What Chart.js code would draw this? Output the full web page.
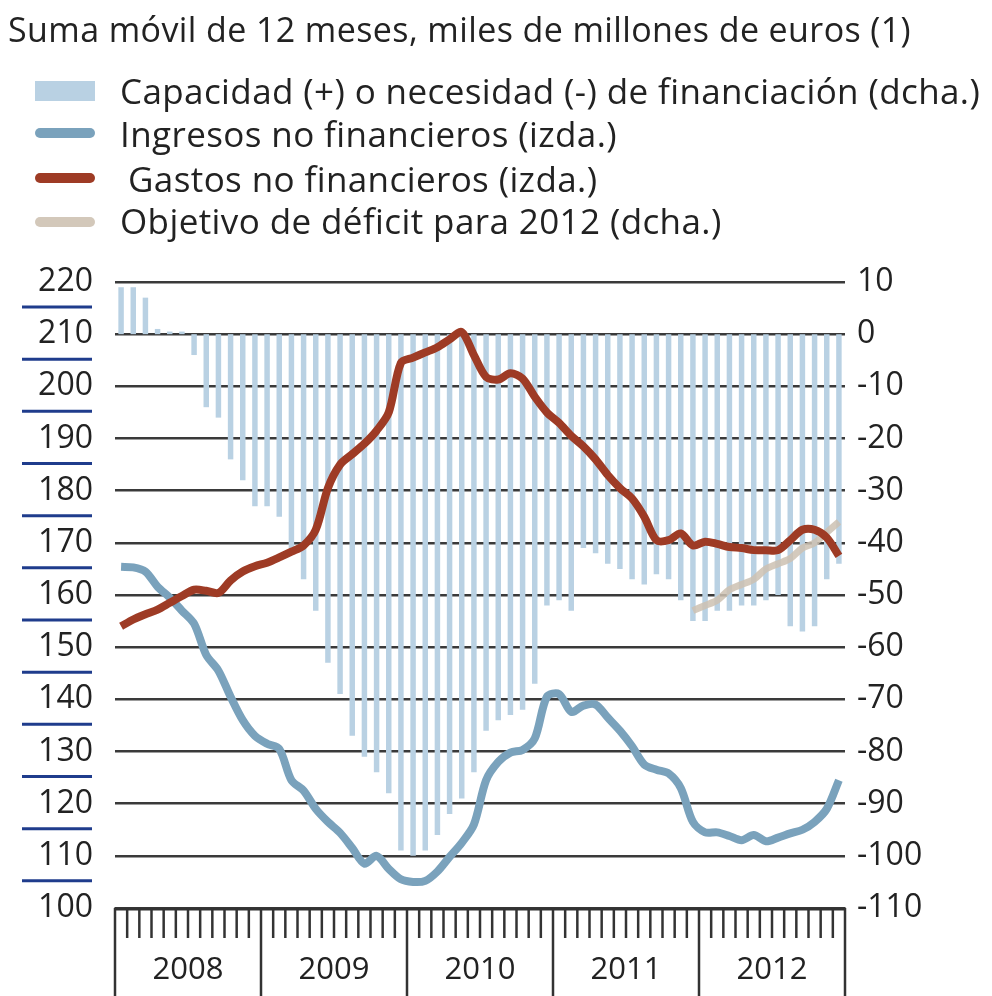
<!DOCTYPE html>
<html lang="es">
<head>
<meta charset="UTF-8">
<title>Capacidad o necesidad de financiación</title>
<style>
  body { margin: 0; background: #fff; font-family: "Open Sans", sans-serif; color: #222; }
  .wrap { position: relative; width: 992px; height: 996px; }
  #grafico { position: absolute; left: 0; top: 0; }
  .titulo { position: absolute; left: 8px; top: 6px; font-size: 34px; letter-spacing: 0.4px; white-space: nowrap; line-height: 46px; }
  .leyenda { position: absolute; left: 0; top: 0; }
  .item { position: absolute; left: 120px; font-size: 35px; letter-spacing: 0.4px; white-space: nowrap; line-height: 46px; }
  .simbolo { position: absolute; left: 35px; width: 60px; }
</style>
</head>
<body>
<div class="wrap">
  <canvas id="grafico" width="992" height="996"></canvas>
  <div class="titulo">Suma móvil de 12 meses, miles de millones de euros (1)</div>
  <div class="leyenda">
    <div class="simbolo" style="top:81px;height:20px;background:#b9d1e3"></div>
    <div class="item" style="top:68px">Capacidad (+) o necesidad (-) de financiación (dcha.)</div>
    <div class="simbolo" style="top:128px;height:10px;border-radius:5px;background:#7aa2bc"></div>
    <div class="item" style="top:111px">Ingresos no financieros (izda.)</div>
    <div class="simbolo" style="top:173px;height:10px;border-radius:5px;background:#9e3b25"></div>
    <div class="item" style="top:156px;left:128px">Gastos no financieros (izda.)</div>
    <div class="simbolo" style="top:217px;height:10px;border-radius:5px;background:#d3c8ba"></div>
    <div class="item" style="top:198px">Objetivo de déficit para 2012 (dcha.)</div>
  </div>
</div>

<script src="https://cdn.jsdelivr.net/npm/chart.js@4"></script>
<script>
// meses de ene-2008 a dic-2012
const anios = ['2008', '2009', '2010', '2011', '2012'];
const meses = [];
anios.forEach(a => { for (let m = 1; m <= 12; m++) meses.push(a + '-' + m); });

// ingresos no financieros (izda.)
const ingresos = [
  165.4, 165.3, 164.5, 161.6, 159.5, 157, 154.5, 148.5, 145.5, 140.5, 136, 133,
  131.5, 130.5, 124.5, 122.5, 119, 116.5, 114.4, 111.5, 108.5, 110, 107.5, 105.5,
  105, 105.2, 107, 109.8, 112.5, 116, 124.5, 128, 129.8, 130.3, 132.5, 140.5,
  141, 137.6, 138.8, 139, 136.5, 134, 131, 127.5, 126.5, 125.8, 123, 116.5,
  114.5, 114.5, 113.8, 113, 114, 112.8, 113.5, 114.3, 115, 116.5, 119, 124.5
];

// gastos no financieros (izda.)
const gastos = [
  154, 155.3, 156.3, 157.2, 158.5, 159.8, 161, 160.8, 160.4, 162.8, 164.5, 165.5,
  166.2, 167.2, 168.3, 169.5, 172.5, 180.5, 185, 187, 189, 191.5, 195, 204.5,
  205.5, 206.5, 207.5, 209, 210.4, 206, 201.8, 201.3, 202.5, 201.5, 198, 195,
  193, 190.5, 188.5, 186, 183, 180.5, 178.5, 175, 170.5, 170.5, 171.8, 169.5,
  170.2, 169.8, 169.2, 169, 168.6, 168.6, 168.6, 170.5, 172.5, 172.5, 171, 167.5
];

// capacidad (+) o necesidad (-) de financiación (dcha.)
const saldo = [
  9, 9, 7, 1, 0.5, 0.5, -4, -14, -16, -24, -28, -33,
  -33, -35, -41, -47, -53, -63, -69, -77, -81, -84, -88, -99,
  -100, -99, -96, -92, -89, -84, -76, -74, -73, -72, -67, -52,
  -51, -53, -41, -42, -44, -45, -47, -48, -46, -47, -51, -55,
  -55, -53, -53, -52, -52, -51, -50, -56, -57, -56, -47, -44
];

// objetivo de déficit para 2012 (dcha.), desde dic-2011
const objetivo = [
  null, null, null, null, null, null, null, null, null, null, null, null,
  null, null, null, null, null, null, null, null, null, null, null, null,
  null, null, null, null, null, null, null, null, null, null, null, null,
  null, null, null, null, null, null, null, null, null, null, null, -53,
  -52, -51, -49, -48, -47, -45, -44, -43, -41, -40, -38, -36
];

const ticksIzda = [220, 210, 200, 190, 180, 170, 160, 150, 140, 130, 120, 110];

const fuente = { family: 'Open Sans', size: 32 };

// eje de fechas dibujado a mano: marcas mensuales, separadores de año y subrayados azules
const ejeFechas = {
  id: 'ejeFechas',
  afterDraw(chart) {
    const ctx = chart.ctx;
    const x = chart.scales.x;
    const y = chart.scales.y;
    const area = chart.chartArea;
    const paso = x.getPixelForValue(1) - x.getPixelForValue(0);
    const base = area.bottom;
    ctx.save();
    ctx.strokeStyle = '#333';
    ctx.lineWidth = 3;
    ctx.beginPath();
    ctx.moveTo(area.left - 1, base + 1);
    ctx.lineTo(area.right + 1, base + 1);
    ctx.stroke();
    ctx.lineWidth = 2.5;
    for (let i = 0; i <= meses.length; i++) {
      const px = x.getPixelForValue(i) - paso / 2;
      ctx.beginPath();
      ctx.moveTo(px, base);
      ctx.lineTo(px, i % 12 === 0 ? chart.height : base + 30);
      ctx.stroke();
    }
    ctx.fillStyle = '#222';
    ctx.font = '31px "Open Sans"';
    ctx.textAlign = 'center';
    ctx.textBaseline = 'middle';
    anios.forEach((a, k) => {
      const px = x.getPixelForValue(k * 12) - paso / 2 + paso * 6;
      ctx.fillText(a, px, base + 62);
    });
    ctx.strokeStyle = '#1f3c8c';
    ctx.lineWidth = 3;
    ticksIzda.forEach(v => {
      const py = y.getPixelForValue(v) + 25;
      ctx.beginPath();
      ctx.moveTo(22, py);
      ctx.lineTo(92, py);
      ctx.stroke();
    });
    ctx.restore();
  }
};

new Chart(document.getElementById('grafico'), {
  data: {
    labels: meses,
    datasets: [
      {
        type: 'line', label: 'Gastos no financieros (izda.)', data: gastos, yAxisID: 'y',
        borderColor: '#9e3b25', borderWidth: 8, pointRadius: 0, tension: 0.3, order: 1
      },
      {
        type: 'line', label: 'Ingresos no financieros (izda.)', data: ingresos, yAxisID: 'y',
        borderColor: '#7aa2bc', borderWidth: 8, pointRadius: 0, tension: 0.3, order: 2
      },
      {
        type: 'line', label: 'Objetivo de déficit para 2012 (dcha.)', data: objetivo, yAxisID: 'y1',
        borderColor: 'rgba(205,193,178,0.85)', borderWidth: 7, pointRadius: 0, tension: 0.3, order: 3
      },
      {
        type: 'bar', label: 'Capacidad (+) o necesidad (-) de financiación (dcha.)', data: saldo, yAxisID: 'y1',
        backgroundColor: '#b9d1e3', barPercentage: 0.45, categoryPercentage: 1, order: 4
      }
    ]
  },
  options: {
    responsive: false,
    animation: false,
    layout: { padding: { top: 282, bottom: 88, left: 0, right: 0 } },
    plugins: { legend: { display: false }, tooltip: { enabled: false } },
    scales: {
      x: { type: 'category', display: false, offset: true },
      y: {
        position: 'left', min: 100, max: 220,
        afterFit: s => { s.width = 115; },
        ticks: { stepSize: 10, color: '#222', font: fuente, padding: 22 },
        grid: { color: '#3a3a3a', lineWidth: 2.5, drawTicks: false },
        border: { display: false }
      },
      y1: {
        position: 'right', min: -110, max: 10,
        afterFit: s => { s.width = 147; },
        ticks: { stepSize: 10, color: '#222', font: fuente, padding: 12, callback: v => String(v) },
        grid: { display: false, drawTicks: false },
        border: { display: false }
      }
    }
  },
  plugins: [ejeFechas]
});
</script>
</body>
</html>
